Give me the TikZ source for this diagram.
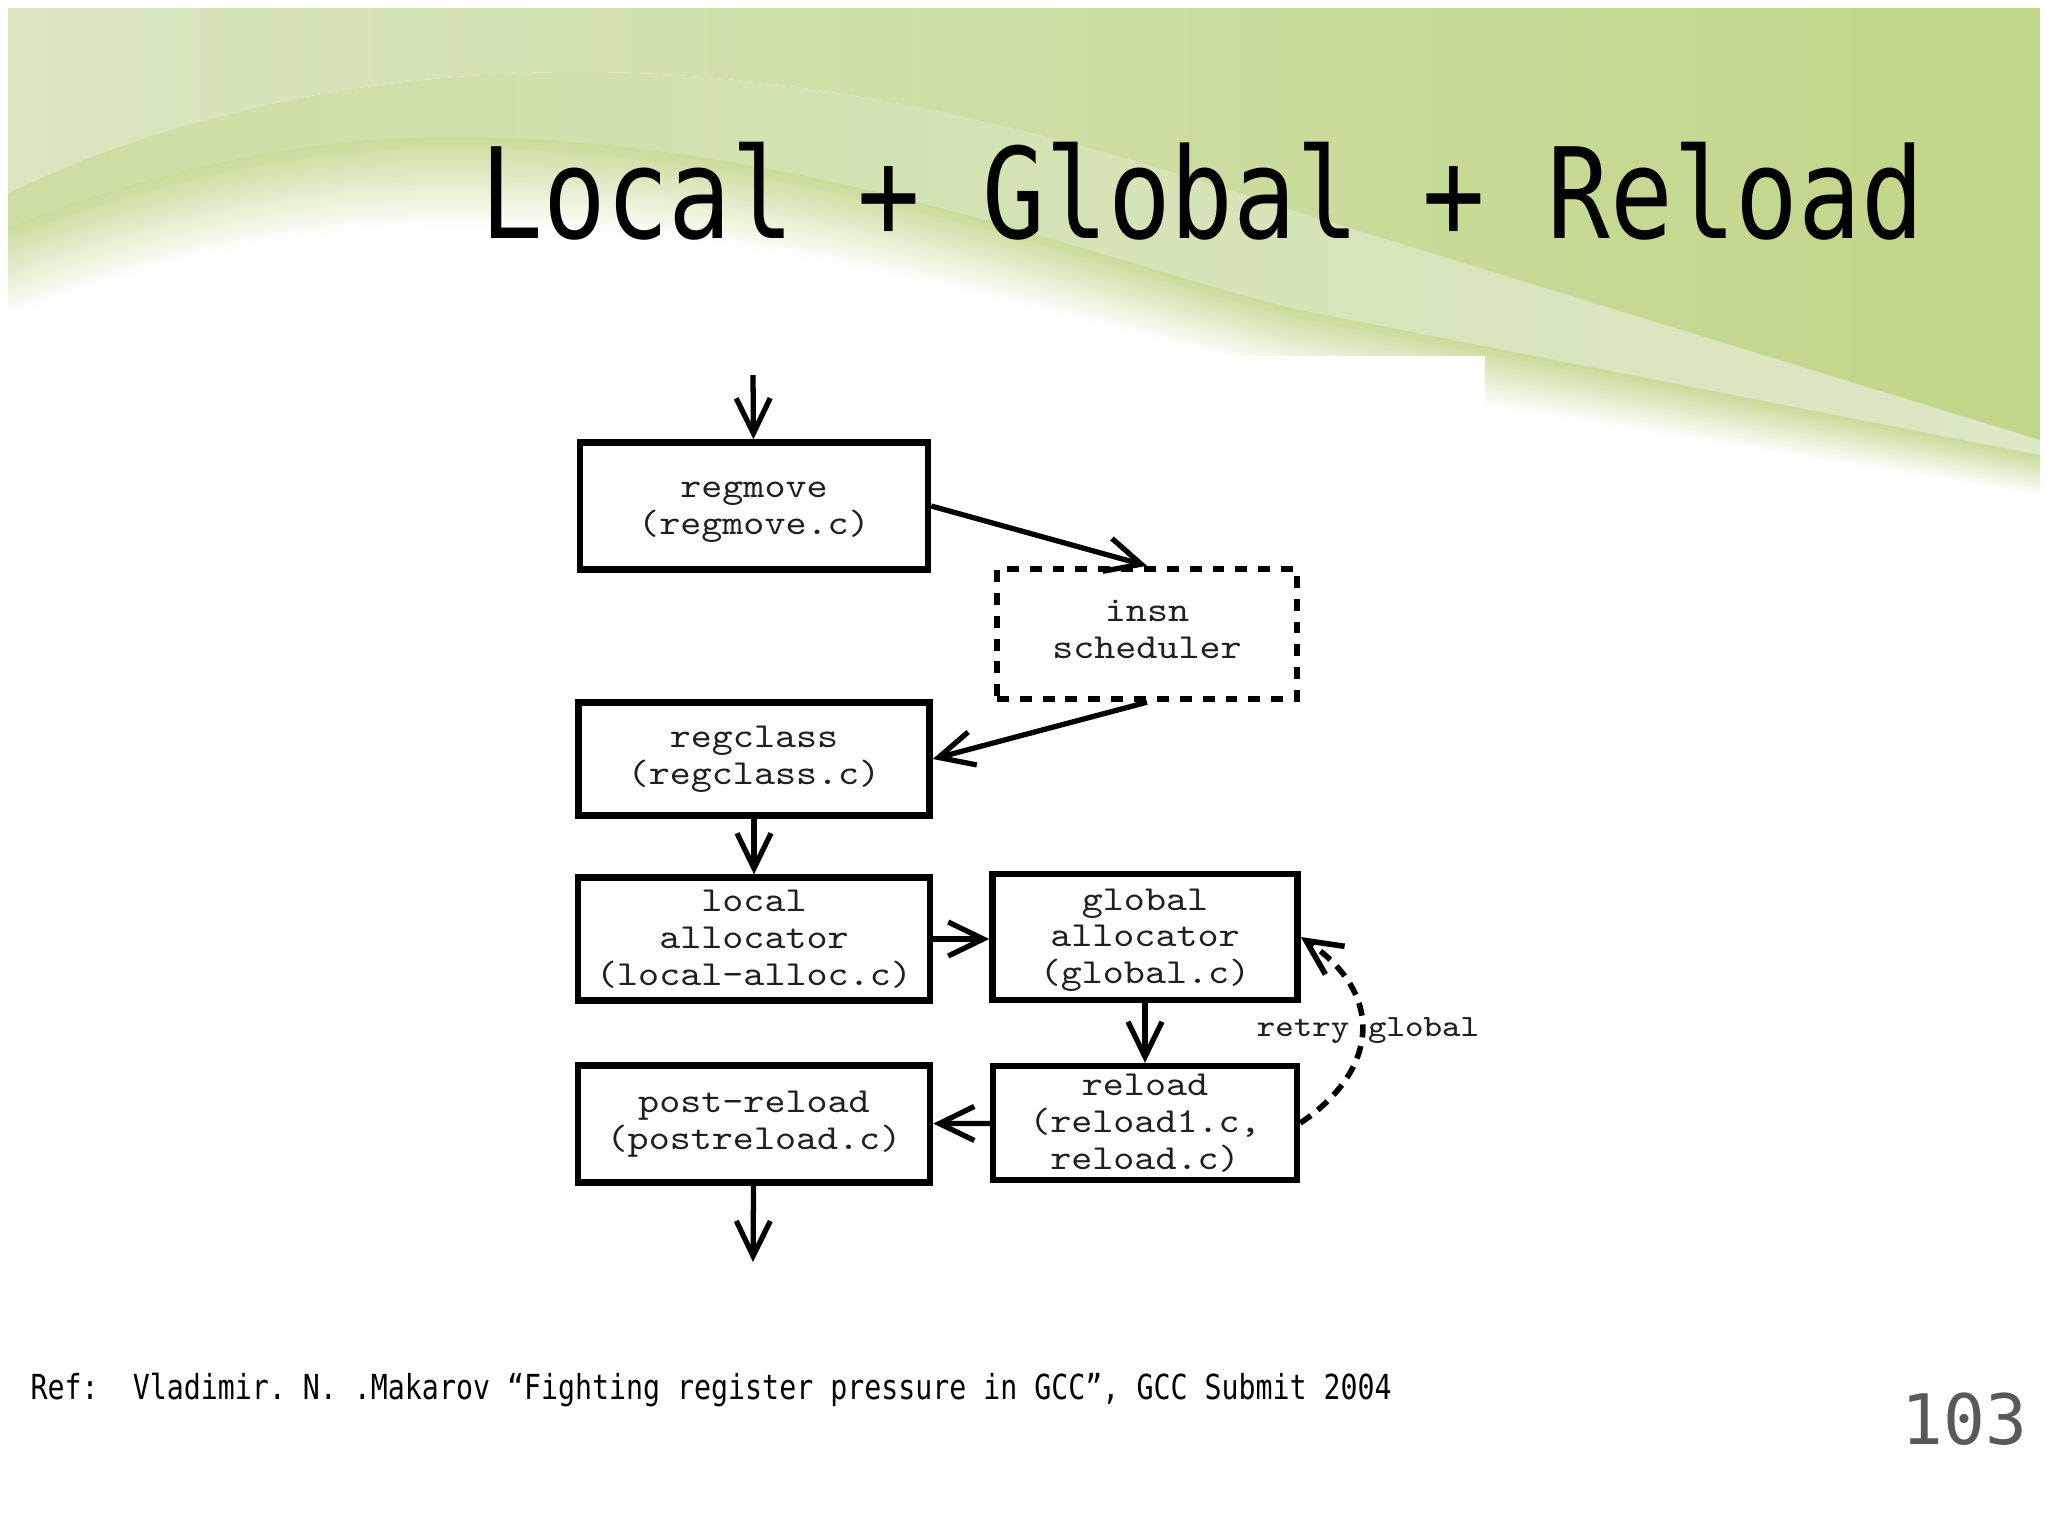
\documentclass[tikz,border=0pt]{standalone}
\usepackage{fontspec}
\usetikzlibrary{arrows.meta,positioning}
\newfontfamily\titlefont[FakeStretch=0.828]{DejaVu Sans Mono}
\newfontfamily\reffont[FakeStretch=0.82]{DejaVu Sans Mono}
\newfontfamily\pagefont{DejaVu Sans Mono}
\newfontfamily\codefont[FakeStretch=1.14]{Latin Modern Mono}
\definecolor{ink}{HTML}{000000}
\definecolor{codeink}{HTML}{1F1F1F}
\definecolor{pagegray}{HTML}{595959}
\definecolor{topleft}{HTML}{D9E6C0}
\definecolor{topmid}{HTML}{CADD9C}
\definecolor{topright}{HTML}{C0D687}
\definecolor{bandleft}{HTML}{CCDEA3}
\definecolor{bandright}{HTML}{DCE8C6}
\definecolor{fadegreen}{HTML}{C9DC9C}
\tikzset{
  box/.style={draw=ink, line width=1.8pt, align=center, inner sep=0pt, text=codeink,
              font=\codefont\fontsize{10}{10.45}\selectfont},
  dashbox/.style={box, dash pattern=on 3.4pt off 3.1pt},
  arr/.style={-{Straight Barb[length=3.5mm, width=3.4mm]}, line width=1.5pt, draw=ink},
  darr/.style={arr, line width=1.6pt, dash pattern=on 3.7pt off 2.5pt},
  lbl/.style={font=\codefont\fontsize{8.8}{10}\selectfont, text=codeink, inner sep=0pt},
}

\begin{document}
\begin{tikzpicture}[x=0.01cm, y=-0.01cm]
\useasboundingbox (0,0) rectangle (2048,1536);
\fill[white] (0,0) rectangle (2048,1536);

% --- slide background: green swoosh ---
\begin{scope}
\clip (8,8) rectangle (2040,1528);
\foreach \i in {30,...,0} {
  \pgfmathtruncatemacro\mix{100-\i*100/30}
  \pgfmathsetmacro\da{3*\i}
  \pgfmathsetmacro\db{2.2*\i}
  \pgfmathsetmacro\dc{1.3*\i}
  \draw[fadegreen!\mix!white, line width=1.3pt]
    (8,227+\da) .. controls (150,172+\da) and (300,137+\da) .. (450,137+\da)
    .. controls (800,137+\da) and (1100,262+\db) .. (1300,310+\db) -- (2040,455+\dc);
}
\shade[left color=bandleft, right color=bandright]
  (8,193) .. controls (180,110) and (380,72) .. (580,72)
  .. controls (850,72) and (1100,147) .. (1300,213) -- (2040,440) -- (2040,455)
  -- (1300,310) .. controls (1100,262) and (800,137) .. (450,137)
  .. controls (300,137) and (150,172) .. (8,227) -- cycle;
\shade[left color=topleft, middle color=topmid, right color=topright]
  (8,8) -- (2040,8) -- (2040,440) -- (1300,213)
  .. controls (1100,147) and (850,72) .. (580,72)
  .. controls (380,72) and (180,110) .. (8,193) -- cycle;
\end{scope}
\fill[white] (431,356) rectangle (1485,1300);

% --- title and footer ---
\node[anchor=base west, inner sep=0pt, font=\titlefont\fontsize{35.8}{40}\selectfont] (title) at (480,238) {Local + Global + Reload};
\node[anchor=base west, inner sep=0pt, font=\reffont\fontsize{9.8}{12}\selectfont\frenchspacing] (ref) at (30,1399)
  {Ref:~ Vladimir. N. .Makarov “Fighting register pressure in GCC”, GCC Submit 2004};
\node[anchor=base east, inner sep=0pt, text=pagegray, font=\pagefont\fontsize{19.8}{22}\selectfont] (page) at (2028,1444) {103};

% --- pass boxes ---
\node[box, minimum width=3.48cm, minimum height=1.27cm] (regmove) at (754,506) {\rule{0pt}{8.1pt}regmove\\(regmove.c)};
\node[dashbox, minimum width=3.00cm, minimum height=1.30cm] (insn) at (1147,634) {insn\\scheduler\rule[-2.6pt]{0pt}{0pt}};
\node[box, minimum width=3.51cm, minimum height=1.13cm] (regclass) at (754,759) {regclass\\(regclass.c)};
\node[box, minimum width=3.52cm, minimum height=1.23cm] (local) at (754,939) {local\\allocator\\(local-alloc.c)};
\node[box, minimum width=3.05cm, minimum height=1.26cm] (global) at (1145,937) {\rule{0pt}{7.9pt}global\\allocator\\(global.c)};
\node[box, minimum width=3.52cm, minimum height=1.17cm] (postreload) at (754,1124) {post-reload\\(postreload.c)};
\node[box, minimum width=3.04cm, minimum height=1.14cm] (reload) at (1145,1123) {reload\\(reload1.c,\\reload.c)};
\coordinate (entry) at (753,375);
\coordinate (exit) at (753,1262);

% --- flow ---
\draw[arr] (entry) -- (regmove);
\draw[arr] (regmove.east) -- (insn.north);
\draw[arr] (insn.south) -- (regclass.east);
\draw[arr] (regclass) -- (local);
\draw[arr] (local.east) -- (local.east -| global.west);
\draw[arr] (global) -- (reload);
\draw[arr] (reload) -- (postreload);
\draw[arr] (postreload) -- (exit);
\draw[darr] (reload.east) .. controls +(75,-50) and +(88,60) .. (global.east);
\node[lbl, anchor=base] (retry) at (1368,1036) {retry global};

\end{tikzpicture}
\end{document}
